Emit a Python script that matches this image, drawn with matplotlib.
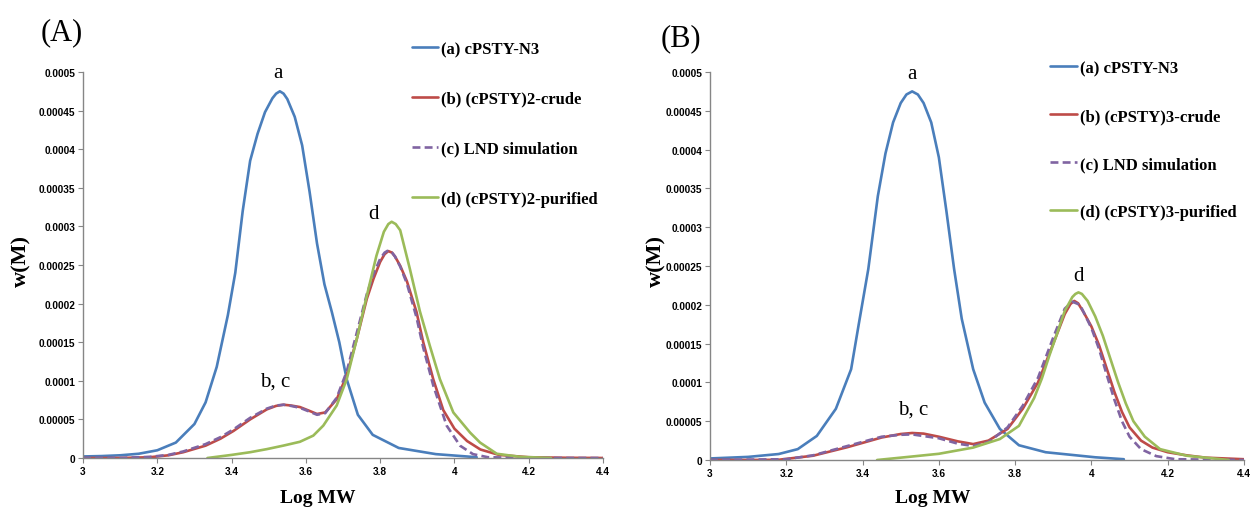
import matplotlib
matplotlib.use("Agg")
import matplotlib.pyplot as plt
from matplotlib.ticker import FixedLocator, FixedFormatter

# ---- data ----
x_ticks = [3.0, 3.2, 3.4, 3.6, 3.8, 4.0, 4.2, 4.4]
x_tick_labels = ["3", "3.2", "3.4", "3.6", "3.8", "4", "4.2", "4.4"]
y_ticks = [0, 0.00005, 0.0001, 0.00015, 0.0002, 0.00025, 0.0003, 0.00035, 0.0004, 0.00045, 0.0005]
y_tick_labels = ["0", "0.00005", "0.0001", "0.00015", "0.0002", "0.00025", "0.0003",
                 "0.00035", "0.0004", "0.00045", "0.0005"]

# panel A
a_blue_x = [3.0, 3.05, 3.1, 3.15, 3.2, 3.25, 3.3, 3.33, 3.36, 3.39, 3.41, 3.43, 3.45, 3.47, 3.49,
            3.51, 3.52, 3.53, 3.54, 3.55, 3.57, 3.59, 3.61, 3.63, 3.65, 3.67, 3.69, 3.71, 3.74, 3.78,
            3.85, 3.95, 4.06]
a_blue_y = [2e-6, 2.5e-6, 3.5e-6, 5.5e-6, 10e-6, 20e-6, 44e-6, 72e-6, 118e-6, 185e-6, 240e-6, 320e-6,
            385e-6, 420e-6, 448e-6, 466e-6, 472e-6, 475e-6, 472e-6, 465e-6, 442e-6, 405e-6, 345e-6,
            278e-6, 225e-6, 189e-6, 150e-6, 102e-6, 56e-6, 30e-6, 13e-6, 5e-6, 1e-6]

a_red_x = [3.0, 3.1, 3.18, 3.23, 3.27, 3.33, 3.37, 3.405, 3.45, 3.495, 3.52, 3.54, 3.56, 3.584, 3.61,
           3.63, 3.652, 3.683, 3.71, 3.737, 3.764, 3.782, 3.80, 3.812, 3.822, 3.832, 3.84, 3.854, 3.872,
           3.898, 3.916, 3.943, 3.97, 4.0, 4.034, 4.07, 4.12, 4.2, 4.3, 4.4]
a_red_y = [0, 0, 1e-6, 3.5e-6, 7.5e-6, 16e-6, 25e-6, 35e-6, 50e-6, 63e-6, 67.5e-6, 69e-6, 68e-6, 66e-6,
           61e-6, 57e-6, 59e-6, 76e-6, 107e-6, 154e-6, 206e-6, 232e-6, 254e-6, 264e-6, 268e-6, 266e-6,
           261e-6, 249e-6, 229e-6, 189e-6, 150e-6, 102e-6, 62e-6, 38e-6, 22e-6, 11e-6, 4e-6, 1e-6,
           0.3e-6, 0]

a_lnd_x = [3.0, 3.1, 3.18, 3.23, 3.27, 3.33, 3.37, 3.405, 3.45, 3.495, 3.52, 3.54, 3.56, 3.584, 3.61,
           3.63, 3.652, 3.683, 3.71, 3.737, 3.764, 3.782, 3.80, 3.812, 3.822, 3.832, 3.84, 3.854, 3.872,
           3.898, 3.916, 3.943, 3.979, 4.015, 4.05, 4.09, 4.2, 4.4]
a_lnd_y = [0, 0, 1.5e-6, 4e-6, 8.5e-6, 18e-6, 27e-6, 37e-6, 52e-6, 64e-6, 68e-6, 69e-6, 67.5e-6, 65e-6,
           60e-6, 56e-6, 58e-6, 78e-6, 112e-6, 162e-6, 212e-6, 238e-6, 258e-6, 266e-6, 269e-6, 266e-6,
           261e-6, 248e-6, 226e-6, 182e-6, 143e-6, 94e-6, 42e-6, 16e-6, 5e-6, 1e-6, 0, 0]

a_green_x = [3.335, 3.40, 3.45, 3.495, 3.539, 3.584, 3.62, 3.647, 3.683, 3.71, 3.737, 3.764, 3.79, 3.81,
             3.822, 3.831, 3.842, 3.854, 3.88, 3.907, 3.934, 3.961, 3.997, 4.042, 4.069, 4.114, 4.177,
             4.26]
a_green_y = [0, 4e-6, 7.5e-6, 11.5e-6, 16e-6, 21e-6, 29e-6, 42e-6, 68e-6, 102e-6, 154e-6, 210e-6,
             262e-6, 293e-6, 303e-6, 306e-6, 303e-6, 295e-6, 245e-6, 190e-6, 145e-6, 102e-6, 59e-6,
             33e-6, 20e-6, 5.5e-6, 1.5e-6, 0]

# panel B
b_blue_x = [3.0, 3.1, 3.18, 3.23, 3.28, 3.33, 3.37, 3.39, 3.415, 3.44, 3.46, 3.48, 3.50, 3.515, 3.53,
            3.545, 3.56, 3.58, 3.60, 3.62, 3.64, 3.66, 3.69, 3.72, 3.76, 3.81, 3.88, 4.01, 4.085]
b_blue_y = [2e-6, 4e-6, 7.7e-6, 14e-6, 31e-6, 66e-6, 117e-6, 175e-6, 246e-6, 340e-6, 395e-6, 435e-6,
            460e-6, 471e-6, 475e-6, 471e-6, 460e-6, 435e-6, 390e-6, 320e-6, 246e-6, 182e-6, 117e-6,
            74e-6, 40e-6, 19e-6, 10e-6, 3.5e-6, 1e-6]

b_red_x = [3.0, 3.1, 3.18, 3.27, 3.36, 3.45, 3.50, 3.53, 3.56, 3.60, 3.65, 3.69, 3.73, 3.78, 3.82, 3.86,
           3.90, 3.93, 3.945, 3.955, 3.965, 3.98, 4.0, 4.02, 4.04, 4.06, 4.08, 4.10, 4.13, 4.16, 4.2,
           4.25, 4.3, 4.4]
b_red_y = [0, 0, 0.3e-6, 5.5e-6, 16.5e-6, 29e-6, 33.5e-6, 34.8e-6, 34e-6, 30e-6, 24e-6, 20.5e-6, 25e-6,
           40e-6, 66e-6, 100e-6, 150e-6, 188e-6, 201e-6, 205e-6, 202e-6, 190e-6, 172e-6, 148e-6,
           118e-6, 88e-6, 62e-6, 42e-6, 25e-6, 16e-6, 10e-6, 6e-6, 3e-6, 1e-6]

b_lnd_x = [3.0, 3.2, 3.27, 3.36, 3.45, 3.50, 3.53, 3.60, 3.65, 3.69, 3.73, 3.78, 3.82, 3.86, 3.90,
           3.93, 3.95, 3.97, 4.0, 4.02, 4.04, 4.06, 4.08, 4.10, 4.13, 4.17, 4.22, 4.4]
b_lnd_y = [0, 1e-6, 6e-6, 18e-6, 30e-6, 32.5e-6, 33e-6, 28e-6, 21e-6, 18e-6, 23e-6, 42e-6, 70e-6,
           106e-6, 158e-6, 195e-6, 204e-6, 200e-6, 170e-6, 143e-6, 110e-6, 78e-6, 50e-6, 30e-6,
           14e-6, 5e-6, 1e-6, 0]

b_green_x = [3.438, 3.52, 3.60, 3.69, 3.76, 3.81, 3.85, 3.87, 3.89, 3.91, 3.93, 3.95, 3.958, 3.966,
             3.975, 3.99, 4.01, 4.03, 4.05, 4.07, 4.09, 4.11, 4.14, 4.18, 4.25, 4.36]
b_green_y = [0, 4e-6, 8e-6, 16e-6, 27e-6, 44e-6, 80e-6, 105e-6, 135e-6, 163e-6, 192e-6, 210e-6, 214e-6,
             216e-6, 214e-6, 205e-6, 185e-6, 160e-6, 130e-6, 100e-6, 73e-6, 50e-6, 30e-6, 14e-6,
             5.5e-6, 0]

labels_a = ["(a) cPSTY-N3", "(b) (cPSTY)2-crude", "(c) LND simulation", "(d) (cPSTY)2-purified"]
labels_b = ["(a) cPSTY-N3", "(b) (cPSTY)3-crude", "(c) LND simulation", "(d) (cPSTY)3-purified"]

colors = ["#4A7EBB", "#BE4B48", "#8064A2", "#9BBB59"]

W, H = 1251, 510
fig = plt.figure(figsize=(W / 100, H / 100), dpi=100)

serif = "Liberation Serif"
sans = "Liberation Sans"


def fx(px):
    return px / W


def fy(py):
    return 1 - py / H


def setup(ax):
    ax.set_xlim(3, 4.4)
    ax.set_ylim(0, 0.0005)
    for s in ["top", "right"]:
        ax.spines[s].set_visible(False)
    for s in ["left", "bottom"]:
        ax.spines[s].set_color("#868686")
        ax.spines[s].set_linewidth(1.0)
    ax.xaxis.set_major_locator(FixedLocator(x_ticks))
    ax.xaxis.set_major_formatter(FixedFormatter(x_tick_labels))
    ax.yaxis.set_major_locator(FixedLocator(y_ticks))
    ax.yaxis.set_major_formatter(FixedFormatter(y_tick_labels))
    ax.tick_params(direction="out", length=3.5, width=0.8, color="#868686", pad=2.0)
    for lab in ax.get_xticklabels() + ax.get_yticklabels():
        lab.set_fontfamily(sans)
        lab.set_fontweight("bold")
        lab.set_fontsize(7.3)


def draw(ax, series, labels):
    handles = []
    for (xs, ys), lab, c in zip(series, labels, colors):
        ls = (0, (3, 1.6)) if "LND" in lab else "-"
        h, = ax.plot(xs, ys, color=c, lw=1.9, ls=ls, label=lab,
                     solid_capstyle="round", solid_joinstyle="round")
        handles.append(h)
    return handles


axA = fig.add_axes([fx(83), fy(459), 520 / W, 386 / H])
axB = fig.add_axes([fx(710), fy(461), 534 / W, 388 / H])
setup(axA)
setup(axB)

hA = draw(axA, [(a_blue_x, a_blue_y), (a_red_x, a_red_y), (a_lnd_x, a_lnd_y), (a_green_x, a_green_y)], labels_a)
hB = draw(axB, [(b_blue_x, b_blue_y), (b_red_x, b_red_y), (b_lnd_x, b_lnd_y), (b_green_x, b_green_y)], labels_b)

leg_font = {"family": serif, "size": 12, "weight": "bold"}
axA.legend(handles=hA, loc="upper left", bbox_to_anchor=(fx(412), fy(42)), bbox_transform=fig.transFigure,
           frameon=False, prop=leg_font, handlelength=1.55, handletextpad=0.2, labelspacing=2.03,
           borderpad=0, borderaxespad=0)
axB.legend(handles=hB, loc="upper left", bbox_to_anchor=(fx(1050), fy(61)), bbox_transform=fig.transFigure,
           frameon=False, prop=leg_font, handlelength=1.6, handletextpad=0.2, labelspacing=1.92,
           borderpad=0, borderaxespad=0)

# peak annotations
ann = dict(fontfamily=serif, fontsize=15, ha="center", va="center")
axA.text(3.525, 0.000500, "a", **ann)
axA.text(3.781, 0.000317, "d", **ann)
axA.text(3.517, 0.000100, "b, c", **ann)
axB.text(3.529, 0.000498, "a", **ann)
axB.text(3.966, 0.000238, "d", **ann)
axB.text(3.533, 0.000066, "b, c", **ann)

# panel labels and axis titles
fig.text(fx(62), fy(33), "(A)", fontfamily=serif, fontsize=22, ha="center", va="center")
fig.text(fx(681), fy(39), "(B)", fontfamily=serif, fontsize=22, ha="center", va="center")
title_font = dict(fontfamily=serif, fontsize=14, fontweight="bold", ha="center", va="center")
fig.text(fx(318), fy(499), "Log MW", **title_font)
fig.text(fx(933), fy(499), "Log MW", **title_font)
fig.text(fx(21), fy(261), "w(M)", rotation=90, fontsize=16,
         **{k: v for k, v in title_font.items() if k != "fontsize"})
fig.text(fx(656), fy(261), "w(M)", rotation=90, fontsize=16,
         **{k: v for k, v in title_font.items() if k != "fontsize"})

fig.savefig("out.png", dpi=100)
